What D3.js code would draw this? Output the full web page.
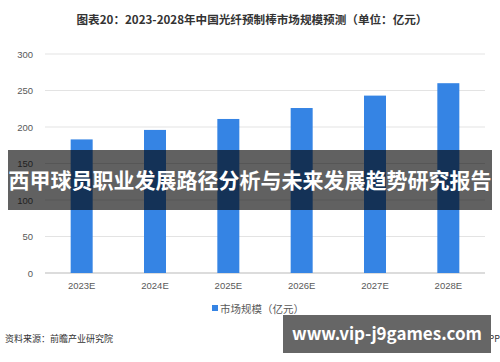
<!DOCTYPE html>
<html>
<head>
<meta charset="utf-8">
<script src="https://cdn.jsdelivr.net/npm/d3@7"></script>
<style>
  body { margin: 0; background: #fff; }
  svg { display: block; font-family: "Noto Sans CJK SC", "Noto Sans", sans-serif; }
</style>
</head>
<body>
<div class="chart"></div>
<script>
var years = ["2023E", "2024E", "2025E", "2026E", "2027E", "2028E"];
var marketSize = [183, 196, 211, 226, 243, 260];
var yTicks = [0, 50, 100, 150, 200, 250, 300];

var fullWidth = 500, fullHeight = 362;
var margin = { top: 54, right: 15, bottom: 89, left: 45 };
var width = fullWidth - margin.left - margin.right;
var height = fullHeight - margin.top - margin.bottom;

var root = d3.select(".chart").append("svg")
  .attr("width", fullWidth)
  .attr("height", fullHeight);

root.append("text")
  .attr("x", 252).attr("y", 24)
  .attr("text-anchor", "middle")
  .style("font-size", "11.6px").style("font-weight", "bold")
  .style("fill", "#333")
  .text("图表20：2023-2028年中国光纤预制棒市场规模预测（单位：亿元）");

var svg = root.append("g")
  .attr("transform", `translate(${margin.left}, ${margin.top})`);

var yScale = d3.scaleLinear().domain([0, 300]).range([height, 0]);
var xScale = d3.scaleBand().domain(years).range([0, width]).paddingInner(0.7).paddingOuter(0.35);

// grid
svg.selectAll(".grid").data(yTicks).enter().append("line")
  .attr("x1", 0).attr("x2", width)
  .attr("y1", d => yScale(d)).attr("y2", d => yScale(d))
  .style("stroke", d => d === 0 ? "#d0d0d0" : "#e3e3e3")
  .style("stroke-width", d => d === 0 ? 1.5 : 1);

var yAxis = d3.axisLeft(yScale).tickValues(yTicks).tickSize(0).tickPadding(12);
svg.append("g").call(yAxis)
  .call(g => g.select(".domain").remove())
  .selectAll("text")
  .style("font-size", "9.5px").style("fill", "#595959");

var xAxis = d3.axisBottom(xScale).tickSize(0).tickPadding(9);
svg.append("g").attr("transform", `translate(0, ${height})`).call(xAxis)
  .call(g => g.select(".domain").remove())
  .selectAll("text")
  .style("font-size", "9.5px").style("fill", "#595959");

svg.selectAll("rect.bar").data(marketSize).enter().append("rect")
  .attr("class", "bar")
  .attr("x", (d, i) => xScale(years[i]))
  .attr("y", d => yScale(d))
  .attr("width", xScale.bandwidth())
  .attr("height", d => height - yScale(d))
  .style("fill", "#3584e4");

// legend
var legend = root.append("g").attr("transform", "translate(212, 309)");
legend.append("rect").attr("x", 0).attr("y", -4).attr("width", 6).attr("height", 6).style("fill", "#3584e4");
legend.append("text").attr("x", 8).attr("y", 0).attr("dy", "0.35em")
  .style("font-size", "10.5px").style("fill", "#595959")
  .text("市场规模（亿元）");

root.append("text").attr("x", 5).attr("y", 342)
  .style("font-size", "9px").style("fill", "#333")
  .text("资料来源：前瞻产业研究院");
root.append("text").attr("x", 500).attr("y", 342).attr("text-anchor", "end")
  .style("font-size", "9px").style("fill", "#333")
  .text("前瞻产业研究院APP");

// overlay banner
root.append("rect").attr("x", 8).attr("y", 150).attr("width", 484).attr("height", 60)
  .style("fill", "#000").style("opacity", 0.62);
root.append("text").attr("x", 250).attr("y", 181).attr("dy", "0.35em")
  .attr("text-anchor", "middle")
  .style("font-size", "21px").style("font-weight", "bold").style("fill", "#fff")
  .text("西甲球员职业发展路径分析与未来发展趋势研究报告");

root.append("rect").attr("x", 283).attr("y", 315).attr("width", 208).attr("height", 38)
  .style("fill", "#666");
root.append("text").attr("x", 387).attr("y", 334).attr("dy", "0.35em")
  .attr("text-anchor", "middle")
  .style("font-size", "17px").style("font-weight", "bold").style("fill", "#fff")
  .text("www.vip-j9games.com");
</script>
</body>
</html>
